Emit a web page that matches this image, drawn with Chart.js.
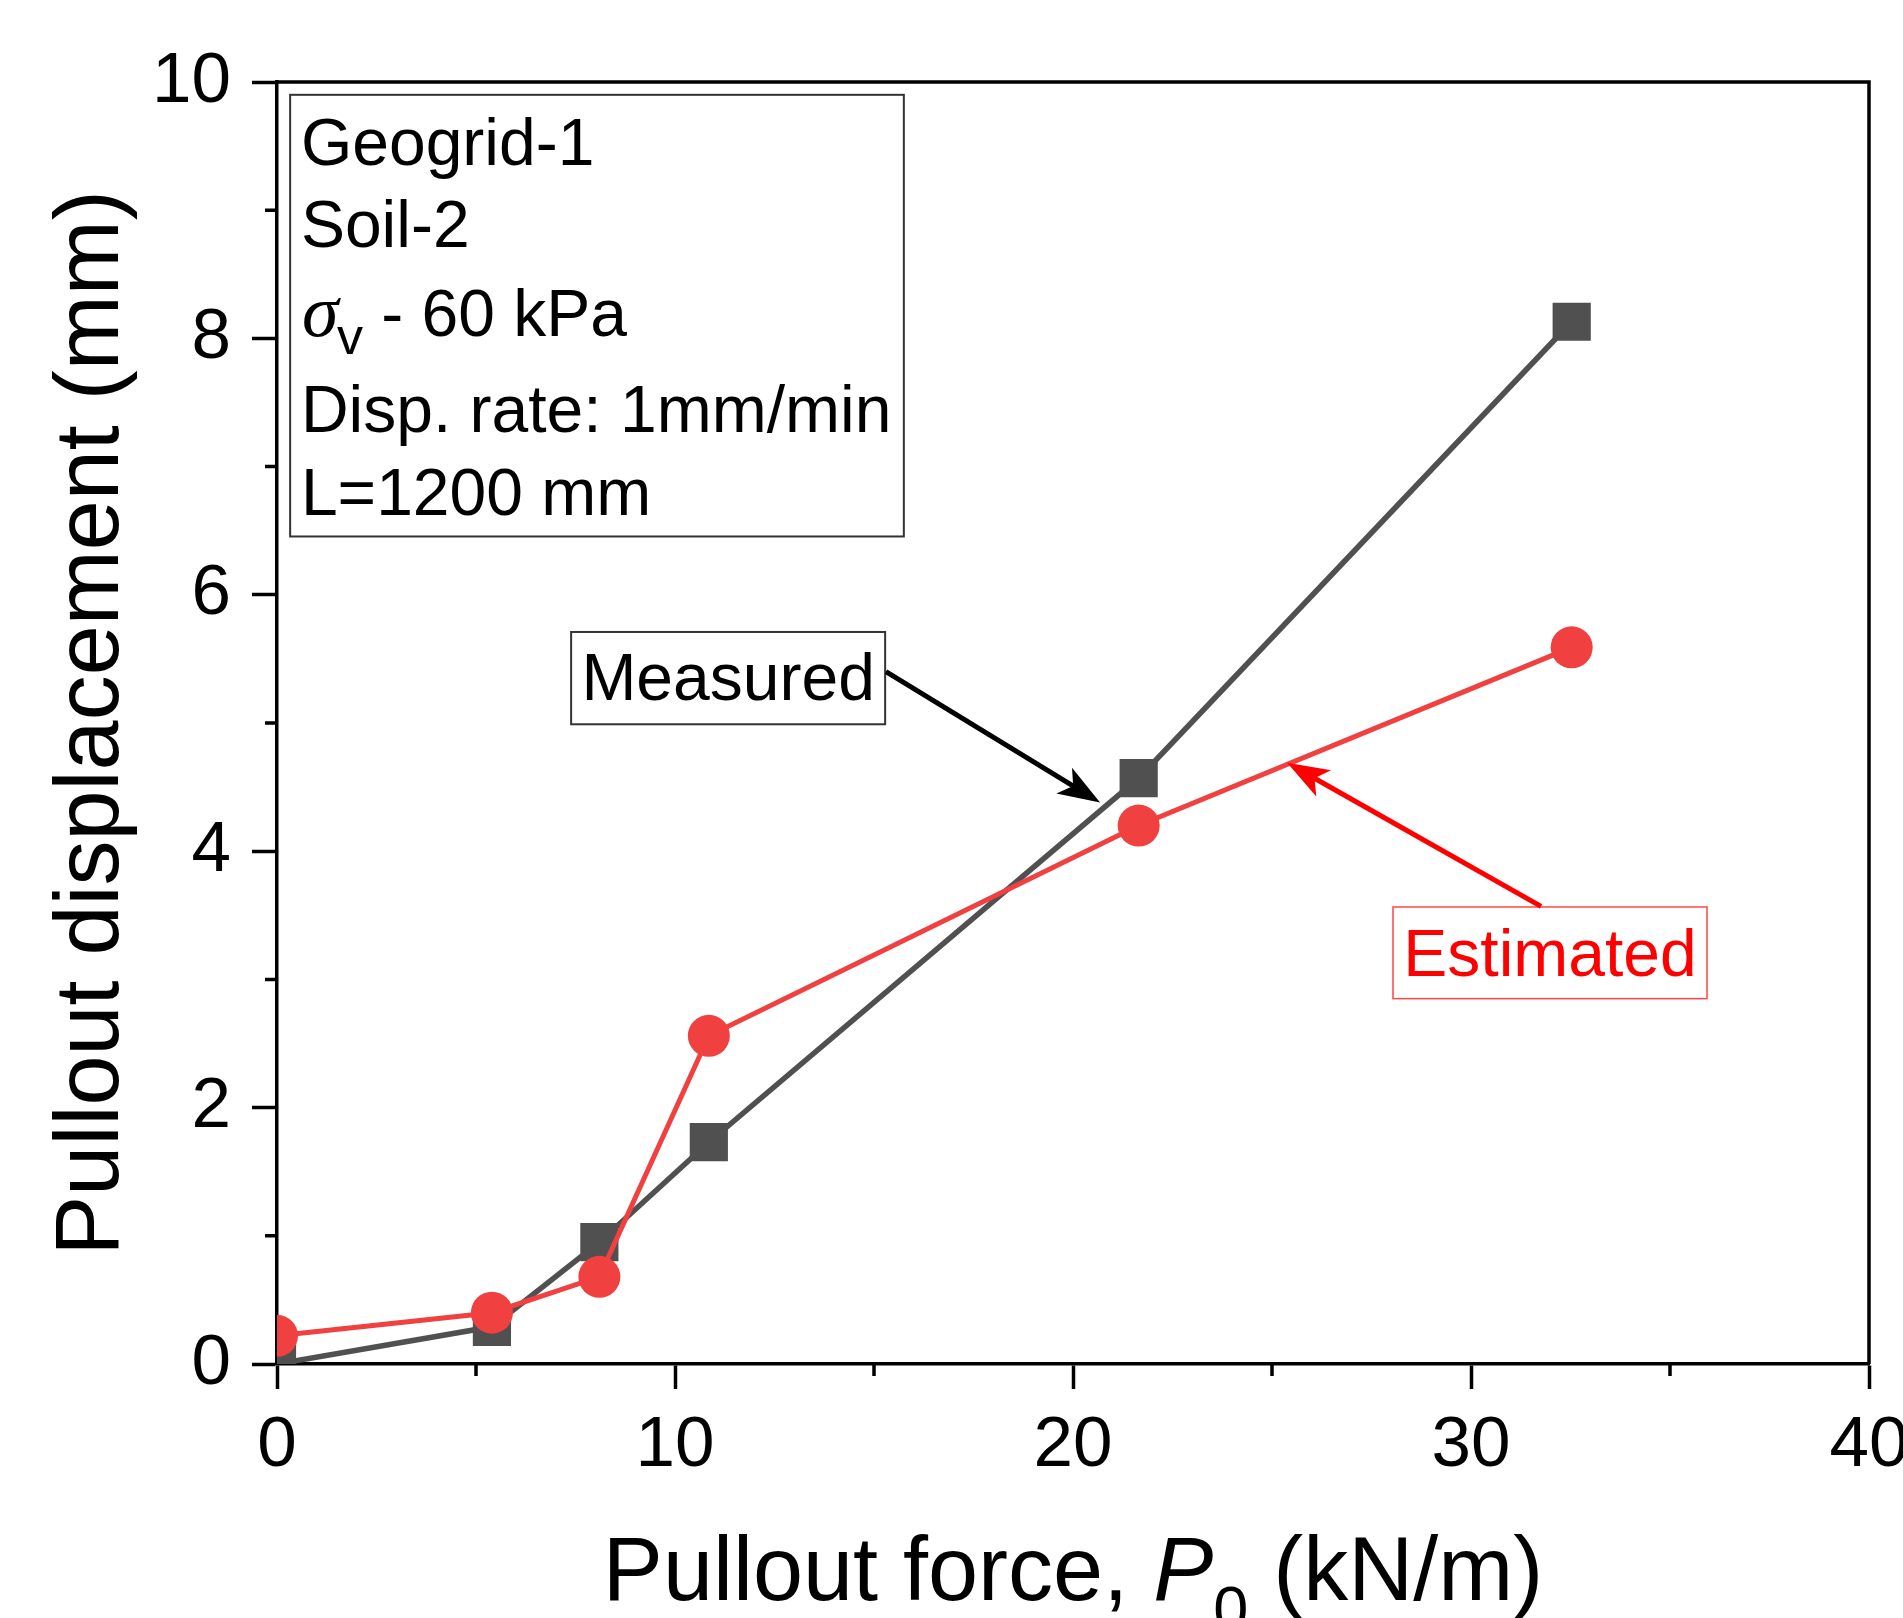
<!DOCTYPE html>
<html>
<head>
<meta charset="utf-8">
<script src="https://cdn.jsdelivr.net/npm/chart.js@4.4.1/dist/chart.umd.min.js"></script>
<style>
  html, body { margin: 0; padding: 0; background: #fff; }
</style>
</head>
<body>
<canvas id="chart" width="1903" height="1618"></canvas>
<script>
// Data
const pulloutForce = [0, 5.4, 8.1, 10.85, 21.65, 32.53];      // kN/m
const dispMeasured = [0.0, 0.29, 0.95, 1.73, 4.57, 8.13];      // mm
const dispEstimated = [0.22, 0.40, 0.68, 2.56, 4.20, 5.59];    // mm

const xMinorTicks = [5, 15, 25, 35];
const yMinorTicks = [1, 3, 5, 7, 9];

const infoLines = ['Geogrid-1', 'Soil-2', 'SIGMA', 'Disp. rate: 1mm/min', 'L=1200 mm'];

const FONT = '"Liberation Sans", Arial, sans-serif';
const GRAY = 'rgb(80,80,80)';
const RED = 'rgb(240,64,64)';

// annotation placement, in data units
const infoBox = { x0: 0.33, x1: 15.75, y0: 9.90, y1: 6.455, textX: 0.60,
                  baselines: [9.35, 8.71, 8.02, 7.27, 6.62] };
const measuredLabel = { x0: 7.39, x1: 15.28, y0: 5.71, y1: 4.99, base: 5.18,
                        from: [15.30, 5.40], to: [20.68, 4.38] };
const estimatedLabel = { x0: 28.04, x1: 35.93, y0: 3.565, y1: 2.85, base: 3.03,
                         from: [31.76, 3.57], to: [25.38, 4.69] };

function arrow(ctx, x0, y0, x1, y1, color) {
  const a = Math.atan2(y1 - y0, x1 - x0);
  const L = 42, W = 15;
  const c = Math.cos(a), s = Math.sin(a);
  ctx.save();
  ctx.strokeStyle = color;
  ctx.lineWidth = 5;
  ctx.beginPath();
  ctx.moveTo(x0, y0);
  ctx.lineTo(x1 - L * 0.7 * c, y1 - L * 0.7 * s);
  ctx.stroke();
  ctx.fillStyle = color;
  ctx.beginPath();
  ctx.moveTo(x1, y1);
  ctx.lineTo(x1 - L * c + W * s, y1 - L * s - W * c);
  ctx.lineTo(x1 - L * 0.75 * c, y1 - L * 0.75 * s);
  ctx.lineTo(x1 - L * c - W * s, y1 - L * s + W * c);
  ctx.closePath();
  ctx.fill();
  ctx.restore();
}

const decorPlugin = {
  id: 'decor',
  afterDraw(chart) {
    const ctx = chart.ctx;
    const xs = chart.scales.x, ys = chart.scales.y;
    const X = v => xs.getPixelForValue(v);
    const Y = v => ys.getPixelForValue(v);
    const area = chart.chartArea;

    ctx.save();
    // top and right spines
    ctx.strokeStyle = '#000';
    ctx.lineWidth = 3.5;
    ctx.beginPath();
    ctx.moveTo(area.left, area.top);
    ctx.lineTo(area.right, area.top);
    ctx.lineTo(area.right, area.bottom);
    ctx.stroke();

    // minor ticks
    ctx.lineWidth = 3.5;
    ctx.beginPath();
    xMinorTicks.forEach(v => { ctx.moveTo(X(v), area.bottom); ctx.lineTo(X(v), area.bottom + 12); });
    yMinorTicks.forEach(v => { ctx.moveTo(area.left, Y(v)); ctx.lineTo(area.left - 12, Y(v)); });
    ctx.stroke();

    // info box
    ctx.strokeStyle = '#333';
    ctx.lineWidth = 2;
    ctx.strokeRect(X(infoBox.x0), Y(infoBox.y0), X(infoBox.x1) - X(infoBox.x0), Y(infoBox.y1) - Y(infoBox.y0));
    ctx.fillStyle = '#000';
    ctx.textBaseline = 'alphabetic';
    ctx.textAlign = 'left';
    const tx = X(infoBox.textX);
    infoLines.forEach((line, i) => {
      const by = Y(infoBox.baselines[i]);
      if (line === 'SIGMA') {
        ctx.font = 'italic 74px "Liberation Serif", "Times New Roman", serif';
        ctx.fillText('\u03C3', tx + 1, by);
        ctx.font = '52px ' + FONT;
        ctx.fillText('v', tx + 36, by + 18);
        ctx.font = '66px ' + FONT;
        ctx.fillText(' - 60 kPa', tx + 62, by);
      } else {
        ctx.font = '66px ' + FONT;
        ctx.fillText(line, tx, by);
      }
    });

    // Measured label
    ctx.strokeStyle = '#333';
    ctx.lineWidth = 2;
    const m = measuredLabel;
    ctx.strokeRect(X(m.x0), Y(m.y0), X(m.x1) - X(m.x0), Y(m.y1) - Y(m.y0));
    ctx.font = '66px ' + FONT;
    ctx.textAlign = 'center';
    ctx.fillStyle = '#000';
    ctx.fillText('Measured', (X(m.x0) + X(m.x1)) / 2, Y(m.base));
    arrow(ctx, X(m.from[0]), Y(m.from[1]), X(m.to[0]), Y(m.to[1]), '#000');

    // Estimated label
    const e = estimatedLabel;
    ctx.strokeStyle = 'rgb(255,70,70)';
    ctx.lineWidth = 1.5;
    ctx.strokeRect(X(e.x0), Y(e.y0), X(e.x1) - X(e.x0), Y(e.y1) - Y(e.y0));
    ctx.fillStyle = '#ff0000';
    ctx.fillText('Estimated', (X(e.x0) + X(e.x1)) / 2, Y(e.base));
    arrow(ctx, X(e.from[0]), Y(e.from[1]), X(e.to[0]), Y(e.to[1]), '#ff0000');

    // x axis title: Pullout force, P0 (kN/m)
    ctx.fillStyle = '#000';
    ctx.textAlign = 'left';
    const parts = [
      { t: 'Pullout force, ', f: '90px ' + FONT, dy: 0 },
      { t: 'P', f: 'italic 90px ' + FONT, dy: 0 },
      { t: '0', f: '63px ' + FONT, dy: 30 },
      { t: ' (kN/m)', f: '90px ' + FONT, dy: 0 }
    ];
    let total = 0;
    parts.forEach(p => { ctx.font = p.f; p.w = ctx.measureText(p.t).width; total += p.w; });
    let cx = (area.left + area.right) / 2 - total / 2;
    parts.forEach(p => { ctx.font = p.f; ctx.fillText(p.t, cx, 1600 + p.dy); cx += p.w; });

    // y axis title
    ctx.translate(118, (area.top + area.bottom) / 2);
    ctx.rotate(-Math.PI / 2);
    ctx.textAlign = 'center';
    ctx.font = '90px ' + FONT;
    ctx.fillText('Pullout displacement (mm)', 0, 0);
    ctx.restore();
  }
};

new Chart(document.getElementById('chart'), {
  type: 'line',
  data: {
    datasets: [
      {
        label: 'Estimated',
        data: pulloutForce.map((x, i) => ({ x: x, y: dispEstimated[i] })),
        borderColor: RED,
        backgroundColor: RED,
        borderWidth: 5,
        pointStyle: 'circle',
        pointRadius: 21,
        pointBorderWidth: 0,
        pointBackgroundColor: RED,
        tension: 0
      },
      {
        label: 'Measured',
        data: pulloutForce.map((x, i) => ({ x: x, y: dispMeasured[i] })),
        borderColor: GRAY,
        backgroundColor: GRAY,
        borderWidth: 5.5,
        pointStyle: 'rect',
        pointRadius: 27,
        pointBorderWidth: 0,
        pointBackgroundColor: GRAY,
        tension: 0
      }
    ]
  },
  options: {
    responsive: false,
    animation: false,
    devicePixelRatio: 1,
    layout: { padding: { left: 0, right: 34, top: 82, bottom: 0 } },
    plugins: { legend: { display: false }, tooltip: { enabled: false } },
    scales: {
      x: {
        type: 'linear',
        min: 0, max: 40,
        ticks: { stepSize: 10, color: '#000', font: { family: FONT, size: 71 }, padding: 15, maxRotation: 0 },
        grid: { display: true, drawOnChartArea: false, tickLength: 25, tickWidth: 3.5, tickColor: '#000' },
        border: { display: true, color: '#000', width: 3.5 },
        afterFit(scale) { scale.height = 254; scale.paddingLeft = 0; scale.paddingRight = 0; }
      },
      y: {
        type: 'linear',
        min: 0, max: 10,
        ticks: { stepSize: 2, color: '#000', font: { family: FONT, size: 71 }, padding: 21 },
        grid: { display: true, drawOnChartArea: false, tickLength: 25, tickWidth: 3.5, tickColor: '#000' },
        border: { display: true, color: '#000', width: 3.5 },
        afterFit(scale) { scale.width = 277; scale.paddingTop = 0; scale.paddingBottom = 0; }
      }
    }
  },
  plugins: [decorPlugin]
});
</script>
</body>
</html>
